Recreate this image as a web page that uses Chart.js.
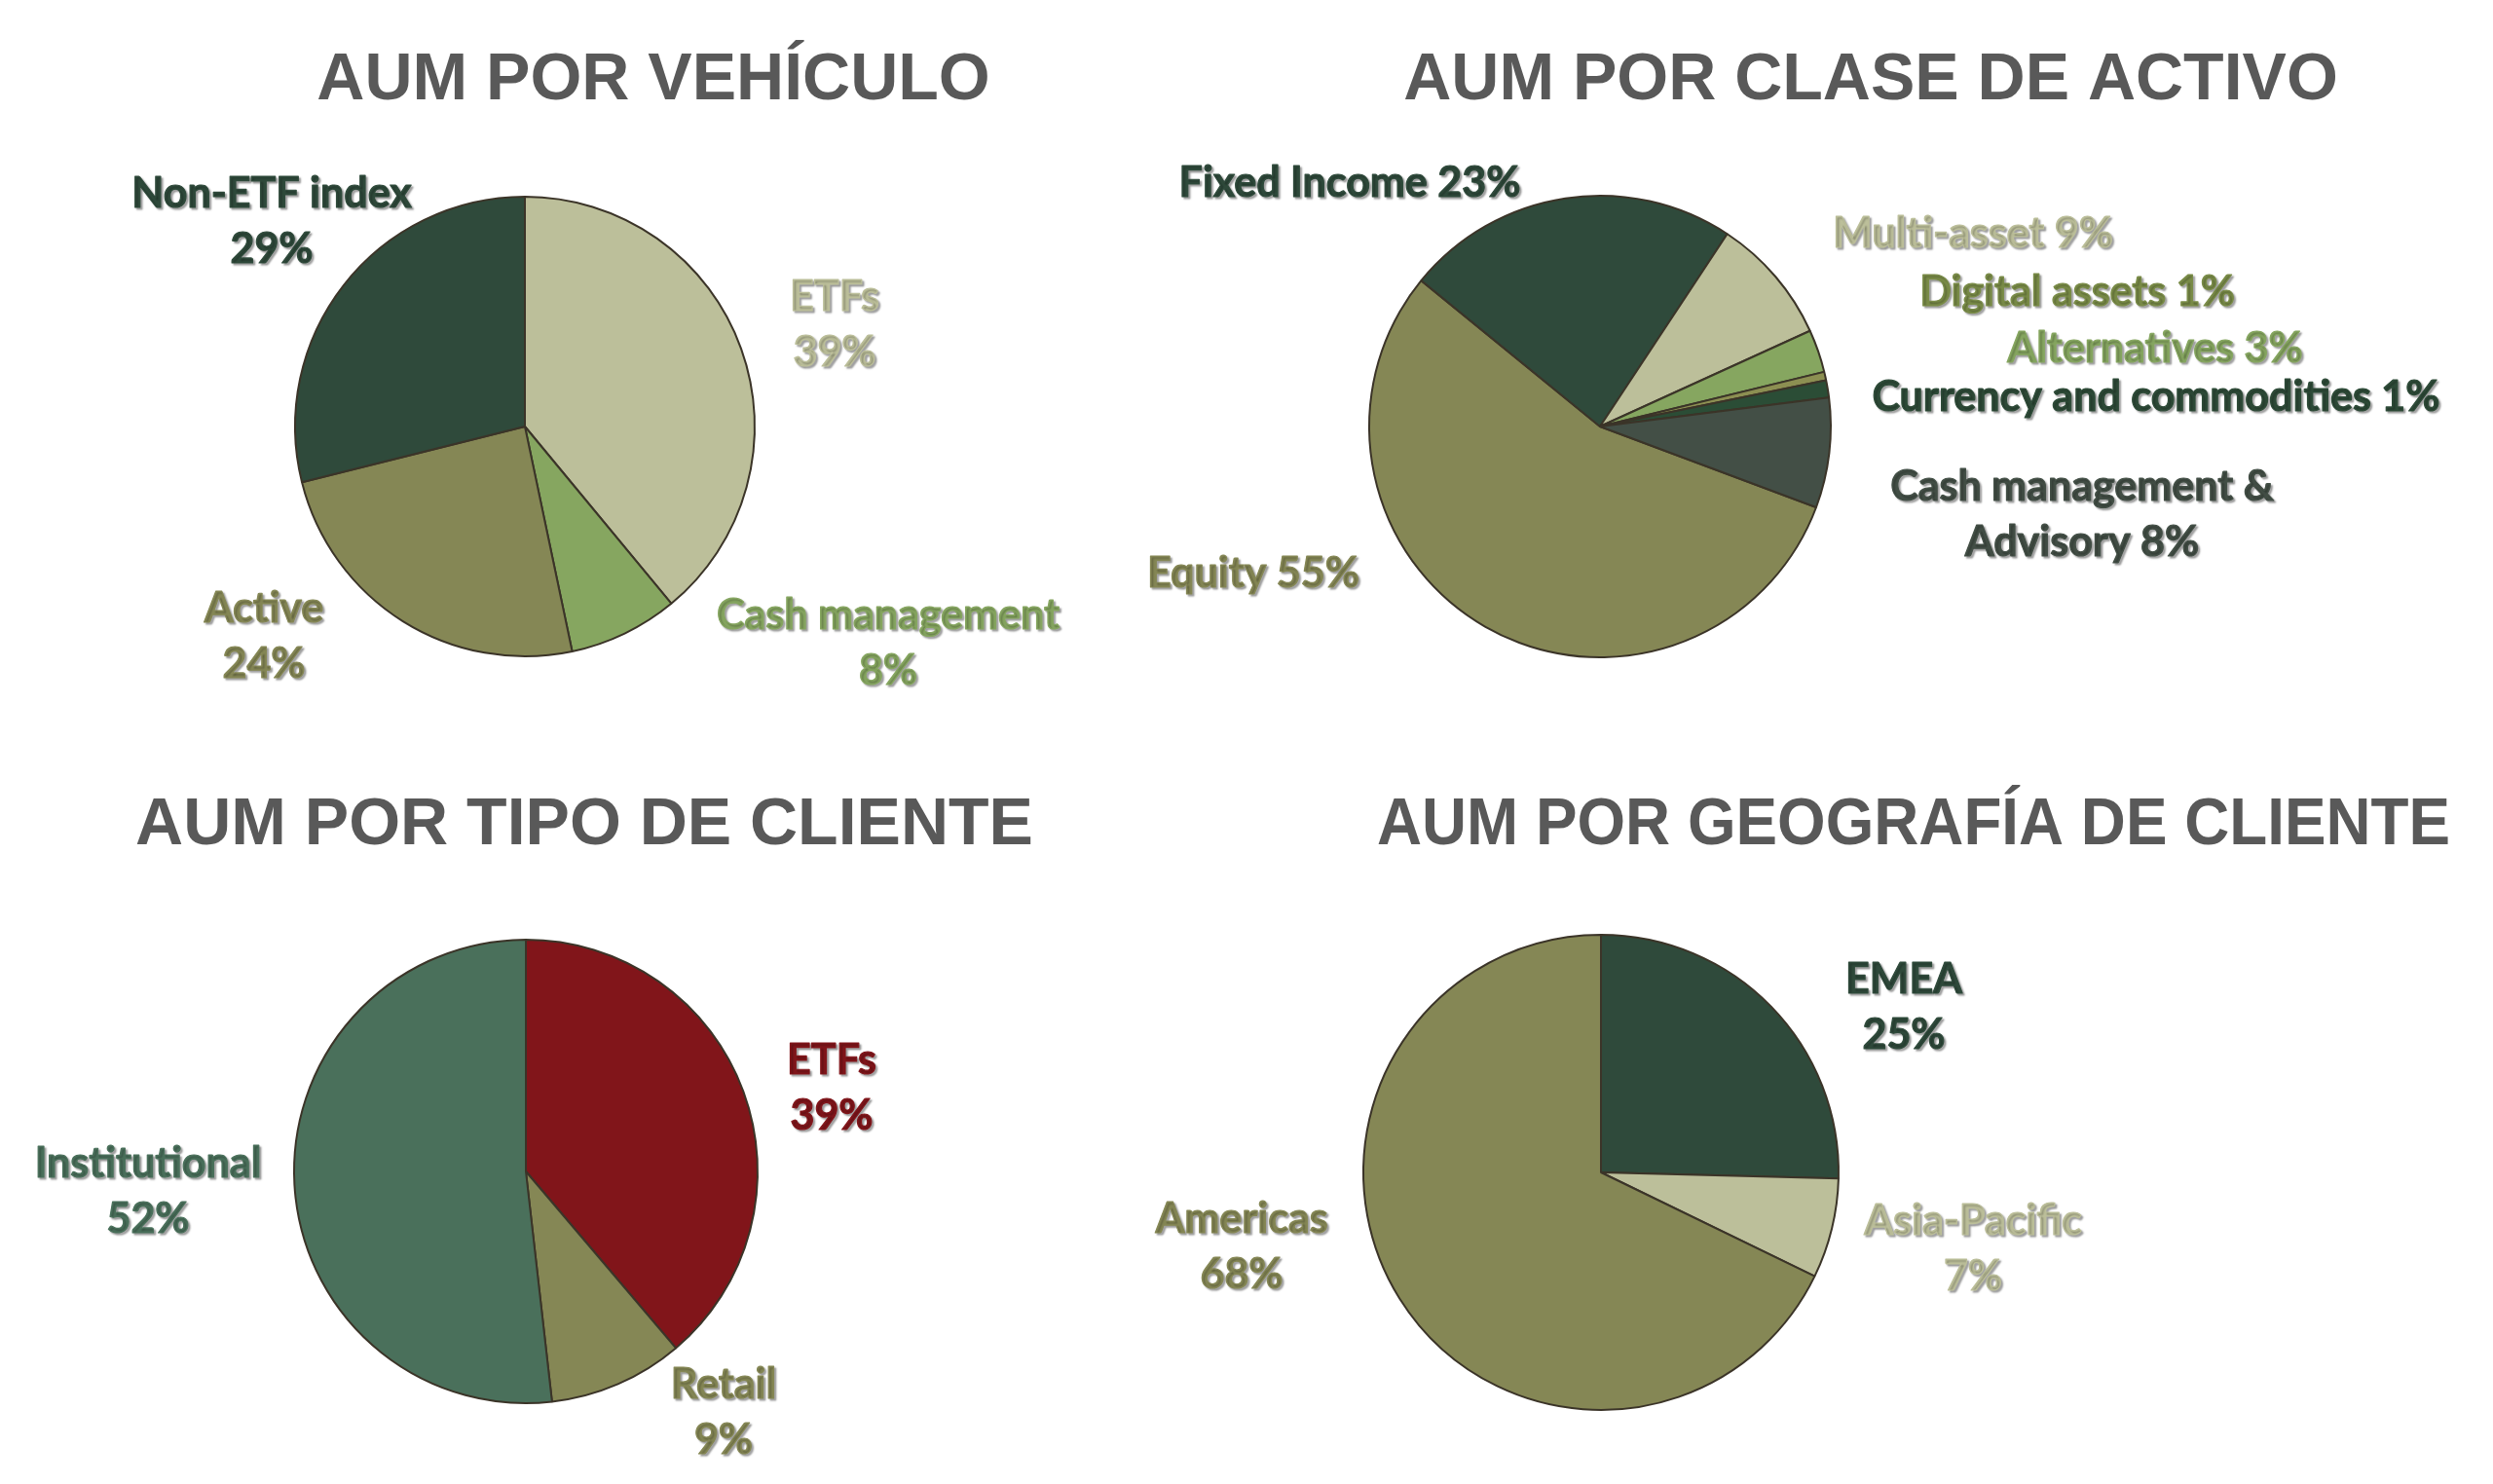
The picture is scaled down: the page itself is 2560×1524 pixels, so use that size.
<!DOCTYPE html>
<html>
<head>
<meta charset="utf-8">
<title>AUM</title>
<script src="https://cdn.jsdelivr.net/npm/chart.js@4.4.1/dist/chart.umd.min.js"></script>
<style>
  html, body { margin: 0; padding: 0; background: #fff; }
  #page { position: relative; width: 2560px; height: 1524px; overflow: hidden; }
  #page canvas { position: absolute; left: 0; top: 0; }
</style>
</head>
<body>
<div id="page">
  <canvas id="vehiculo" width="2560" height="1524"></canvas>
  <canvas id="clase" width="2560" height="1524"></canvas>
  <canvas id="cliente" width="2560" height="1524"></canvas>
  <canvas id="geografia" width="2560" height="1524"></canvas>
</div>
<script>
// --- data (share of AUM, %) ---
const vehiculoLabels = ['ETFs', 'Cash management', 'Active', 'Non-ETF index'];
const vehiculoValues = [39.0, 7.7, 24.4, 28.9];

const claseLabels = ['Equity', 'Fixed Income', 'Multi-asset', 'Alternatives',
                     'Digital assets', 'Currency and commodities', 'Cash management & Advisory'];
const claseValues = [55.2, 23.4, 8.9, 3.0, 0.6, 1.2, 7.7];

const clienteLabels = ['ETFs', 'Retail', 'Institutional'];
const clienteValues = [38.8, 9.4, 51.8];

const geografiaLabels = ['EMEA', 'Asia-Pacific', 'Americas'];
const geografiaValues = [25.4, 6.8, 67.8];

// --- styling ---
const W = 2560, H = 1524;
const DARK = '#2f4a3b', KHAKI = '#bcbf9a', LIGHT = '#86a660', OLIVE = '#858755';
const SLATE = '#434f46', TEAL = '#4a705b', RED = '#81151a';

const sliceLabels = {
    id: 'sliceLabels',
    afterDraw(chart, args, opts) {
        const ctx = chart.ctx;
        const ds = chart.data.datasets[0];
        const total = ds.data.reduce((a, b) => a + b, 0);
        ctx.save();
        ctx.textAlign = 'center';
        ctx.textBaseline = 'alphabetic';

        ctx.font = 'bold 68px "Liberation Sans", Arial, sans-serif';
        ctx.fillStyle = '#595959';
        if (opts.titleWidth) {
            ctx.fillText(opts.title, opts.titleAt[0], opts.titleAt[1], opts.titleWidth);
        } else {
            ctx.fillText(opts.title, opts.titleAt[0], opts.titleAt[1]);
        }

        ctx.font = 'bold 43px Lato, "Open Sans", sans-serif';
        ctx.lineWidth = 1.2;
        ctx.lineJoin = 'round';
        ctx.shadowColor = 'rgba(0, 0, 0, 0.35)';
        ctx.shadowOffsetX = 2;
        ctx.shadowOffsetY = 2;
        ctx.shadowBlur = 2;
        chart.data.labels.forEach((name, i) => {
            const pct = Math.round(ds.data[i] / total * 100) + '%';
            const words = (name + ' ' + pct).split(' ');
            const spot = opts.spots[i];
            const lines = spot.br
                ? [words.slice(0, spot.br).join(' '), words.slice(spot.br).join(' ')]
                : [words.join(' ')];
            ctx.fillStyle = opts.textColors[i];
            ctx.strokeStyle = opts.textColors[i];
            lines.forEach((t, k) => {
                ctx.fillText(t, spot.x, spot.y + k * 57);
                ctx.strokeText(t, spot.x, spot.y + k * 57);
            });
        });
        ctx.restore();
    }
};

function makePie(id, labels, values, cfg) {
    const [cx, cy, r] = cfg.pie;
    return new Chart(document.getElementById(id), {
        type: 'pie',
        data: {
            labels: labels,
            datasets: [{
                data: values,
                backgroundColor: cfg.colors,
                borderColor: '#3b3428',
                borderWidth: 2,
                radius: r,
                rotation: cfg.rotation || 0
            }]
        },
        options: {
            responsive: false,
            animation: false,
            events: [],
            layout: {
                padding: { left: cx - r, right: W - cx - r, top: cy - r, bottom: H - cy - r }
            },
            plugins: {
                legend: { display: false },
                tooltip: { enabled: false },
                sliceLabels: {
                    title: cfg.title,
                    titleAt: cfg.titleAt,
                    titleWidth: cfg.titleWidth,
                    textColors: cfg.textColors,
                    spots: cfg.spots
                }
            }
        },
        plugins: [sliceLabels]
    });
}

makePie('vehiculo', vehiculoLabels, vehiculoValues, {
    title: 'AUM POR VEHÍCULO', titleAt: [671, 102],
    pie: [539, 438, 236],
    colors: [KHAKI, LIGHT, OLIVE, DARK],
    textColors: [KHAKI, LIGHT, OLIVE, DARK],
    spots: [{ x: 857, y: 319, br: 1 }, { x: 912, y: 646, br: 2 },
            { x: 271, y: 639, br: 1 }, { x: 279, y: 213, br: 2 }]
});

makePie('clase', claseLabels, claseValues, {
    title: 'AUM POR CLASE DE ACTIVO', titleAt: [1921, 102],
    pie: [1643, 438, 237], rotation: 110.5,
    colors: [OLIVE, DARK, KHAKI, LIGHT, '#8c8f52', '#2b4d36', SLATE],
    textColors: [OLIVE, DARK, KHAKI, LIGHT, '#7a8c48', '#2e4b38', SLATE],
    spots: [{ x: 1287, y: 603 }, { x: 1386, y: 202 }, { x: 2026, y: 254 },
            { x: 2213, y: 372 }, { x: 2133, y: 314 }, { x: 2214, y: 422 },
            { x: 2138, y: 514, br: 3 }]
});

makePie('cliente', clienteLabels, clienteValues, {
    title: 'AUM POR TIPO DE CLIENTE', titleAt: [600, 867],
    pie: [540, 1203, 238],
    colors: [RED, OLIVE, TEAL],
    textColors: [RED, OLIVE, TEAL],
    spots: [{ x: 854, y: 1103, br: 1 }, { x: 743, y: 1436, br: 1 }, { x: 152, y: 1209, br: 1 }]
});

makePie('geografia', geografiaLabels, geografiaValues, {
    title: 'AUM POR GEOGRAFÍA DE CLIENTE', titleAt: [1965, 867], titleWidth: 1102,
    pie: [1644, 1204, 244],
    colors: [DARK, KHAKI, OLIVE],
    textColors: [DARK, KHAKI, OLIVE],
    spots: [{ x: 1955, y: 1020, br: 1 }, { x: 2026, y: 1268, br: 1 }, { x: 1275, y: 1266, br: 1 }]
});
</script>
</body>
</html>
